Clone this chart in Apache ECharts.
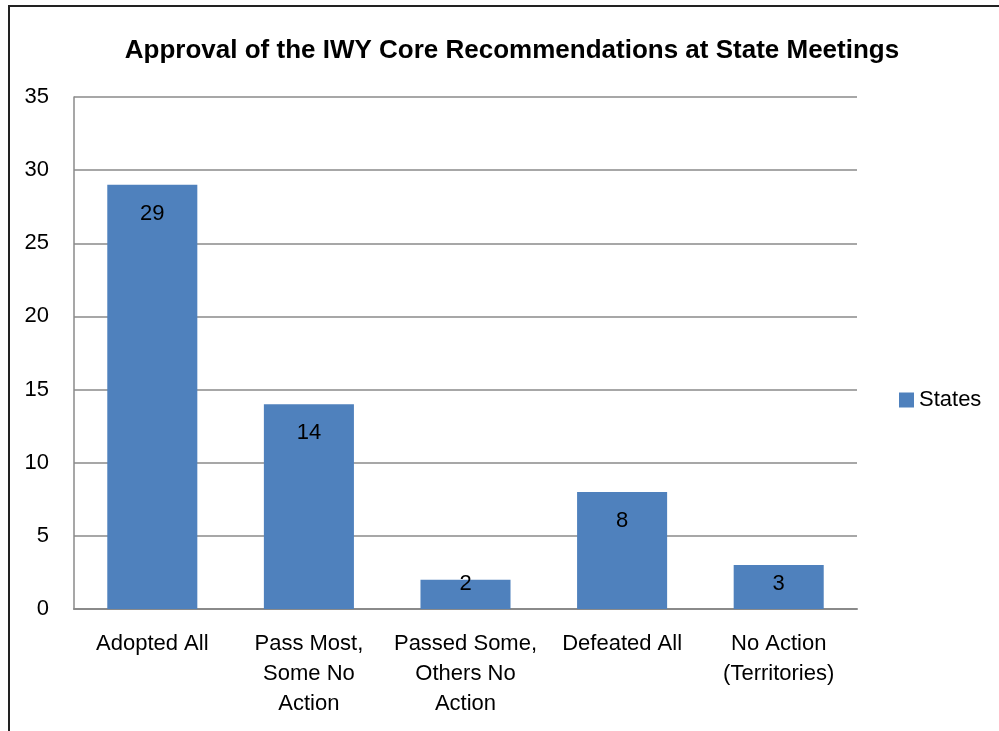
<!DOCTYPE html>
<html>
<head>
<meta charset="utf-8">
<script src="https://cdn.jsdelivr.net/npm/echarts@6/dist/echarts.min.js"></script>
<style>
html,body{margin:0;padding:0;background:#fff;}
#chart{width:999px;height:731px;}
</style>
</head>
<body>
<div id="chart"></div>
<script>
const titleText = 'Approval of the IWY Core Recommendations at State Meetings';
const categories = ['Adopted All', 'Pass Most,\nSome No\nAction', 'Passed Some,\nOthers No\nAction', 'Defeated All', 'No Action\n(Territories)'];
const seriesName = 'States';
const values = [29, 14, 2, 8, 3];
const yTicks = [0, 5, 10, 15, 20, 25, 30, 35];

const FONT = "'Liberation Sans Narrow', 'Arial Narrow', 'Liberation Sans', Arial, sans-serif";
const chart = echarts.init(document.getElementById('chart'), null, {renderer: 'canvas'});

const data = values.map(v => v < 4
  ? {value: v, label: {position: 'insideBottom', distance: 14}}
  : v);

chart.setOption({
  animation: false,
  backgroundColor: '#fff',
  textStyle: {fontFamily: FONT},
  title: {
    text: titleText,
    left: 507, top: 33, textAlign: 'center',
    textStyle: {fontFamily: FONT, fontSize: 26, fontWeight: 'bold', color: '#000'}
  },
  graphic: [{
    type: 'rect', silent: true,
    shape: {x: 9, y: 6, width: 1000, height: 740},
    style: {fill: 'none', stroke: '#222', lineWidth: 2}
  }],
  legend: {
    left: 899, top: 389, orient: 'vertical', padding: 0,
    icon: 'rect', itemWidth: 15, itemHeight: 15, itemGap: 5,
    textStyle: {fontFamily: FONT, fontSize: 22, color: '#000'},
    data: [seriesName]
  },
  grid: {left: 74, top: 97, right: 142, bottom: 122, containLabel: false},
  xAxis: {
    type: 'category',
    data: categories,
    axisLine: {show: true, lineStyle: {color: '#8a8a8a', width: 2}},
    axisTick: {show: false},
    axisLabel: {fontFamily: FONT, fontSize: 22, color: '#000', margin: 20, lineHeight: 30, interval: 0}
  },
  yAxis: {
    type: 'value',
    min: yTicks[0], max: yTicks[yTicks.length - 1], interval: yTicks[1] - yTicks[0],
    axisLine: {show: true, lineStyle: {color: '#8a8a8a', width: 1.5}},
    axisTick: {show: false},
    splitLine: {show: true, lineStyle: {color: '#8a8a8a', width: 1.5}},
    axisLabel: {fontFamily: FONT, fontSize: 22, color: '#000', margin: 25}
  },
  series: [{
    name: seriesName,
    type: 'bar',
    data: data,
    barCategoryGap: '42.5%',
    itemStyle: {color: '#4f81bd'},
    label: {
      show: true, position: 'insideTop', distance: 18,
      fontFamily: FONT, fontSize: 22, color: '#000'
    }
  }]
});
</script>
</body>
</html>
